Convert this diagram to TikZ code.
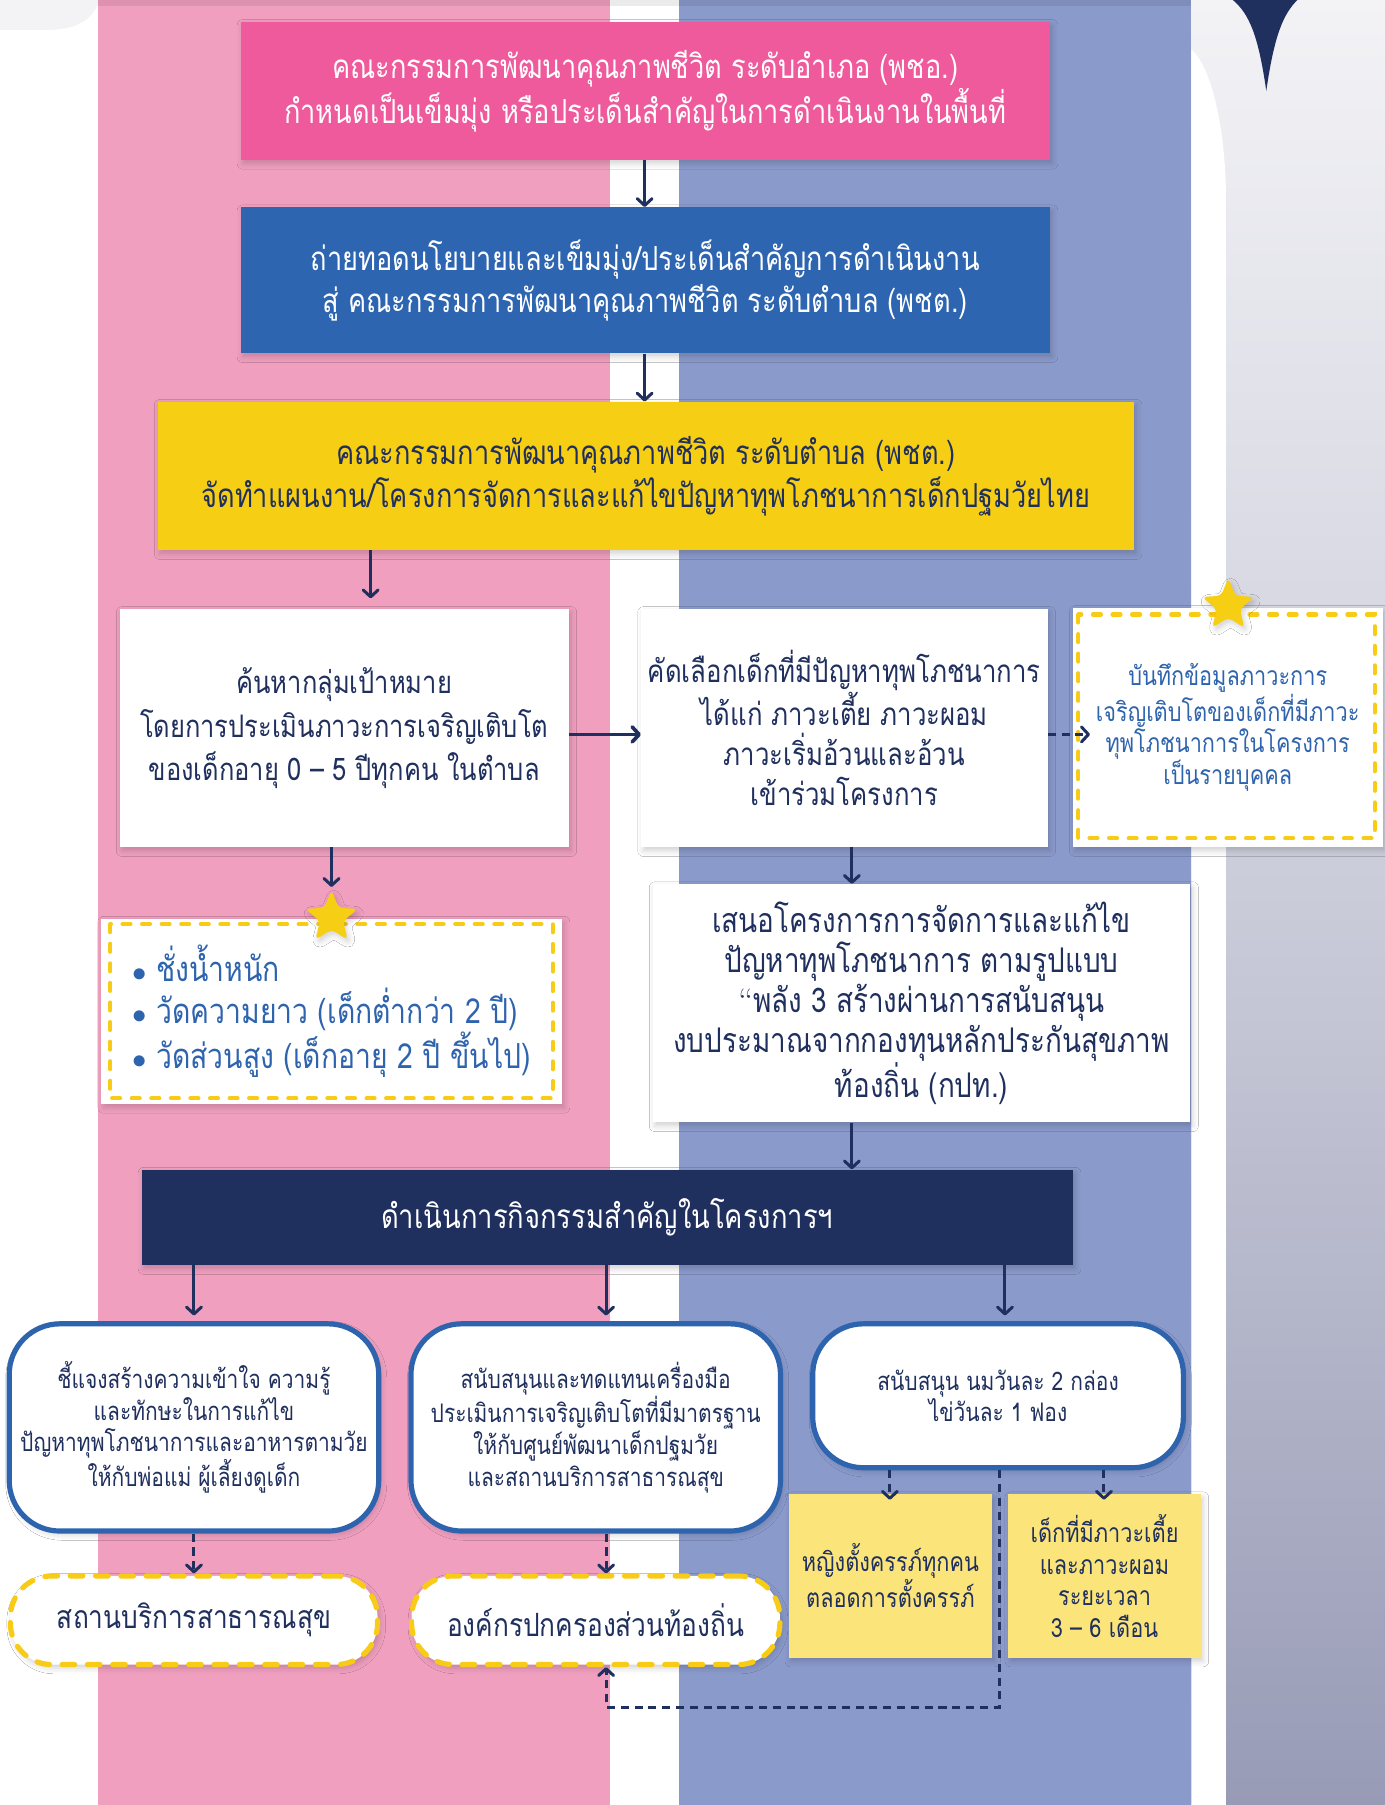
\documentclass[tikz,border=0pt]{standalone}
\usepackage{fontspec}
\newfontfamily\thai[Script=Thai,FakeStretch=0.82]{Loma}
\usetikzlibrary{arrows.meta,shapes.geometric,shadows.blur}
\definecolor{pinkCol}{HTML}{F09FBF}
\definecolor{blueCol}{HTML}{8A9ACB}
\definecolor{pinkBox}{HTML}{EE5A9B}
\definecolor{blueBox}{HTML}{2D65B0}
\definecolor{yelBox}{HTML}{F6CE13}
\definecolor{navy}{HTML}{1F2F5E}
\definecolor{lightY}{HTML}{FBE57B}
\definecolor{bord}{HTML}{2E64AE}
\definecolor{txtBlue}{HTML}{2E64AE}
\definecolor{dashY}{HTML}{F7CB16}
\definecolor{grayTop}{HTML}{F3F3F6}
\definecolor{grayBot}{HTML}{989BB6}
\newcommand\tfs[2]{\fontsize{#1}{#2}\selectfont}
\begin{document}
\begin{tikzpicture}[x=1pt,y=-1pt,
  every node/.style={font=\thai, align=center, inner sep=0pt},
  shd/.style={blur shadow={shadow xshift=2pt,shadow yshift=-3pt,shadow opacity=18,shadow blur radius=5pt}},
  boxbase/.style={rectangle, shd},
  arr/.style={draw=navy, line width=2.6pt, -{Straight Barb[length=6pt,width=13pt,round]}},
  darr/.style={arr, dash pattern=on 7pt off 5pt},
  ybord/.style={draw=dashY, line width=3.5pt, dash pattern=on 7pt off 10pt, line cap=round},
  starn/.style={star, star points=5, star point ratio=2.3, fill=yelBox, minimum size=48pt, inner sep=0pt, rounded corners=4pt, shd},
  rbox/.style={boxbase, rounded corners=44pt, draw=bord, line width=4.5pt, fill=white},
  pill/.style={boxbase, rounded corners=36pt, fill=white, draw=dashY, line width=4.5pt, dash pattern=on 11pt off 11pt, line cap=round},
]
\useasboundingbox (0,0) rectangle (1203,1568);
% ---------- background ----------
\fill[white] (0,0) rectangle (1203,1568);
\fill[grayTop] (0,0) -- (85,0) -- (85,4) .. controls (78,20) and (62,26) .. (40,26) -- (0,26) -- cycle;
\fill[pinkCol] (85,0) rectangle (530,1568);
\fill[blueCol] (590,0) rectangle (1035,1568);
\fill[black, opacity=0.08] (85,0) rectangle (1035,5);
\shade[top color=grayTop, bottom color=grayBot, middle color=grayTop!55!grayBot] (1035,0) rectangle (1203,1568);
\fill[white] (1035,43) .. controls (1052,58) and (1065,110) .. (1065,175) -- (1065,1568) -- (1035,1568) -- cycle;
\fill[navy] (1071,0) .. controls (1085,12) and (1093,30) .. (1100,79) .. controls (1107,30) and (1115,12) .. (1127,0) -- cycle;
% ---------- helper coordinates ----------
\coordinate (xa) at (560,0);
\coordinate (xy) at (322,0);
\coordinate (xs) at (288,0);
\coordinate (xe) at (740,0);
\coordinate (my) at (0,638);
\coordinate (g1) at (168.5,0);
\coordinate (g2) at (526.5,0);
\coordinate (g3) at (873,0);
\coordinate (i1) at (773,0);
\coordinate (i2) at (959,0);
\coordinate (k1) at (868.5,1483);
\coordinate (k2) at (526.5,1483);
% ---------- boxes ----------
\node[boxbase, fill=pinkBox, minimum width=703pt, minimum height=120pt, text=white, font=\thai\tfs{28.8}{37}] (P) at (560.5,79)
 {คณะกรรมการพัฒนาคุณภาพชีวิต ระดับอำเภอ (พชอ.)\\กำหนดเป็นเข็มมุ่ง หรือประเด็นสำคัญในการดำเนินงานในพื้นที่};
\node[boxbase, fill=blueBox, minimum width=703pt, minimum height=127pt, text=white, font=\thai\tfs{28.8}{37}] (B) at (560.5,243.5)
 {ถ่ายทอดนโยบายและเข็มมุ่ง/ประเด็นสำคัญการดำเนินงาน\\สู่ คณะกรรมการพัฒนาคุณภาพชีวิต ระดับตำบล (พชต.)};
\node[boxbase, fill=yelBox, minimum width=848pt, minimum height=129pt, text=navy, font=\thai\tfs{28.8}{37}] (Y) at (561,413.5)
 {คณะกรรมการพัฒนาคุณภาพชีวิต ระดับตำบล (พชต.)\\จัดทำแผนงาน/โครงการจัดการและแก้ไขปัญหาทุพโภชนาการเด็กปฐมวัยไทย};
\node[boxbase, fill=white, minimum width=390pt, minimum height=207pt, text=navy, font=\thai\tfs{27}{37.5}] (A) at (299,632.5)
 {ค้นหากลุ่มเป้าหมาย\\โดยการประเมินภาวะการเจริญเติบโต\\ของเด็กอายุ 0 – 5 ปีทุกคน ในตำบล};
\node[boxbase, fill=white, minimum width=353pt, minimum height=207pt, text=navy, font=\thai\tfs{27.3}{34.7}] (Bx) at (733.5,632.5)
 {คัดเลือกเด็กที่มีปัญหาทุพโภชนาการ\\ได้แก่ ภาวะเตี้ย ภาวะผอม\\ภาวะเริ่มอ้วนและอ้วน\\เข้าร่วมโครงการ};
\node[boxbase, fill=white, minimum width=269pt, minimum height=208pt, text=txtBlue, font=\thai\tfs{23}{27.5}] (C) at (1066.5,632)
 {บันทึกข้อมูลภาวะการ\\เจริญเติบโตของเด็กที่มีภาวะ\\ทุพโภชนาการในโครงการ\\เป็นรายบุคคล};
\draw[ybord] ([shift={(5,6)}]C.north west) rectangle ([shift={(-7,-8)}]C.south east);
\node[boxbase, fill=white, minimum width=400pt, minimum height=161pt, text=txtBlue, font=\thai\tfs{30}{37}, align=left] (D) at (288,878.5)
 {$\bullet$ ชั่งน้ำหนัก\\$\bullet$ วัดความยาว (เด็กต่ำกว่า 2 ปี)\\$\bullet$ วัดส่วนสูง (เด็กอายุ 2 ปี ขึ้นไป)};
\draw[ybord] ([shift={(8,5)}]D.north west) rectangle ([shift={(-8,-5)}]D.south east);
\node[boxbase, fill=white, minimum width=467pt, minimum height=207pt, text=navy, font=\thai\tfs{29.5}{34.6}] (E) at (800.5,871.5)
 {เสนอโครงการการจัดการและแก้ไข\\ปัญหาทุพโภชนาการ ตามรูปแบบ\\{\rmfamily “}พลัง 3 สร้างผ่านการสนับสนุน\\งบประมาณจากกองทุนหลักประกันสุขภาพ\\ท้องถิ่น (กปท.)};
\node[boxbase, fill=navy, minimum width=809pt, minimum height=83pt, text=white, font=\thai\tfs{29}{37}] (F) at (527.5,1057.5)
 {ดำเนินการกิจกรรมสำคัญในโครงการฯ};
\node[rbox, minimum width=321pt, minimum height=180pt, text=navy, font=\thai\tfs{22.2}{27.6}] (G1) at (168.5,1240)
 {ชี้แจงสร้างความเข้าใจ ความรู้\\และทักษะในการแก้ไข\\ปัญหาทุพโภชนาการและอาหารตามวัย\\ให้กับพ่อแม่ ผู้เลี้ยงดูเด็ก};
\node[rbox, minimum width=321pt, minimum height=180pt, text=navy, font=\thai\tfs{22.2}{27.6}] (G2) at (517.5,1240)
 {สนับสนุนและทดแทนเครื่องมือ\\ประเมินการเจริญเติบโตที่มีมาตรฐาน\\ให้กับศูนย์พัฒนาเด็กปฐมวัย\\และสถานบริการสาธารณสุข};
\node[rbox, minimum width=322pt, minimum height=125pt, text=navy, font=\thai\tfs{22.2}{27.6}] (G3) at (867,1212.5)
 {สนับสนุน นมวันละ 2 กล่อง\\ไข่วันละ 1 ฟอง};
\node[pill, minimum width=319pt, minimum height=77pt, text=navy, font=\thai\tfs{27.8}{37}] (H1) at (168.5,1407.5)
 {สถานบริการสาธารณสุข};
\node[pill, minimum width=320pt, minimum height=77pt, text=navy, font=\thai\tfs{27.8}{37}] (H2) at (517.5,1407.5)
 {องค์กรปกครองส่วนท้องถิ่น};
\node[boxbase, fill=lightY, minimum width=177pt, minimum height=142pt, text=navy, font=\thai\tfs{23}{27.5}] (I1) at (773.5,1369)
 {หญิงตั้งครรภ์ทุกคน\\ตลอดการตั้งครรภ์};
\node[boxbase, fill=lightY, minimum width=167pt, minimum height=142pt, text=navy, font=\thai\tfs{23}{27.5}] (I2) at (959.5,1369)
 {เด็กที่มีภาวะเตี้ย\\และภาวะผอม\\ระยะเวลา\\3 – 6 เดือน};
% ---------- stars ----------
\node[starn] (S1) at (288,797) {};
\node[starn] (S2) at (1067,526) {};
% ---------- connectors ----------
\draw[arr] (P.south -| xa) -- (B.north -| xa);
\draw[arr] (B.south -| xa) -- (Y.north -| xa);
\draw[arr, shorten >=9pt] (Y.south -| xy) -- (A.north -| xy);
\draw[arr, line width=3.2pt] (A.east |- my) -- (Bx.west |- my);
\draw[darr, shorten >=-15pt] (Bx.east |- my) -- (C.west |- my);
\draw[arr, shorten >=2pt] (A.south -| xs) -- (S1.north);
\draw[arr] (Bx.south -| xe) -- (E.north -| xe);
\draw[arr] (E.south -| xe) -- (F.north -| xe);
\draw[arr, shorten >=5pt] (F.south -| g1) -- (G1.north -| g1);
\draw[arr, shorten >=5pt] (F.south -| g2) -- (G2.north -| g2);
\draw[arr, shorten >=5pt] (F.south -| g3) -- (G3.north -| g3);
\draw[darr] (G1.south -| g1) -- (H1.north -| g1);
\draw[darr] (G2.south -| g2) -- (H2.north -| g2);
\draw[darr, shorten >=-5pt] (G3.south -| i1) -- (I1.north -| i1);
\draw[darr, shorten >=-5pt] (G3.south -| i2) -- (I2.north -| i2);
\draw[darr] (G3.south -| k1) -- (k1) -- (k2) -- (H2.south -| k2);
\end{tikzpicture}
\end{document}
